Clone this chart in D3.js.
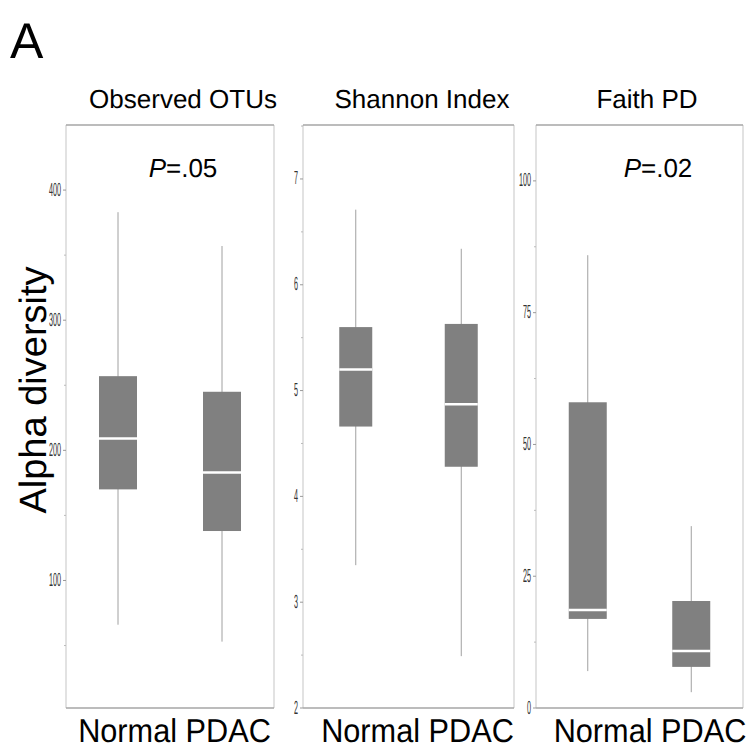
<!DOCTYPE html>
<html><head><meta charset="utf-8">
<script src="https://cdn.jsdelivr.net/npm/d3@7"></script>
<style>body{margin:0;background:#fff}svg{display:block}text{text-rendering:geometricPrecision}</style>
</head><body>
<script>
const groups = ["Normal", "PDAC"];
const panelTitles = ["Observed OTUs", "Shannon Index", "Faith PD"];
const pValues = ["=.05", null, "=.02"];
// [whiskerLow, q1, median, q3, whiskerHigh] per group
const otuStats = [[66, 170, 209, 257, 383], [53, 138, 183, 245, 357]];
const shannonStats = [[3.35, 4.66, 5.20, 5.60, 6.71], [2.49, 4.28, 4.87, 5.63, 6.34]];
const faithStats = [[7.0, 16.9, 18.6, 58.0, 85.9], [3.0, 7.8, 10.8, 20.3, 34.5]];
const otuTicks = [100, 200, 300, 400];
const shannonTicks = [2, 3, 4, 5, 6, 7];
const faithTicks = [0, 25, 50, 75, 100];
const otuDomain = [2, 450];
const shannonDomain = [2, 7.51];
const faithDomain = [0, 110.6];

const W = 749, H = 750;
const svg = d3.select("body").append("svg").attr("width", W).attr("height", H)
  .style("font-family", "Liberation Sans, Arial, sans-serif");

svg.append("text").attr("x", 10).attr("y", 58).attr("font-size", 50).text("A");
svg.append("text").attr("transform", "translate(46,390) rotate(-90)")
  .attr("text-anchor", "middle").attr("font-size", 38).text("Alpha diversity");

const panels = [
  {x0: 66, x1: 274, y0: 125, y1: 708, stats: otuStats, ticks: otuTicks, dom: otuDomain, title: panelTitles[0], p: pValues[0], bw: 38, minor: 50, tx: 183, px: 183, lc: 174.5},
  {x0: 303, x1: 514, y0: 125, y1: 708, stats: shannonStats, ticks: shannonTicks, dom: shannonDomain, title: panelTitles[1], p: pValues[1], bw: 33, minor: 0.5, tx: 422, px: 0, lc: 417.5},
  {x0: 536, x1: 743, y0: 125, y1: 708, stats: faithStats, ticks: faithTicks, dom: faithDomain, title: panelTitles[2], p: pValues[2], bw: 38, minor: 12.5, tx: 647, px: 658, lc: 650}
];

panels.forEach(pn => {
  const g = svg.append("g");
  const y = d3.scaleLinear().domain(pn.dom).range([pn.y1, pn.y0]);
  const x = d3.scalePoint().domain(groups).range([pn.x0, pn.x1]).padding(0.5);
  // frame
  g.append("line").attr("x1", pn.x0).attr("x2", pn.x0).attr("y1", pn.y0).attr("y2", pn.y1).attr("stroke", "#d9d9d9").attr("stroke-width", 1.5);
  g.append("line").attr("x1", pn.x1).attr("x2", pn.x1).attr("y1", pn.y0).attr("y2", pn.y1).attr("stroke", "#d9d9d9").attr("stroke-width", 1.5);
  g.append("line").attr("x1", pn.x0).attr("x2", pn.x1).attr("y1", pn.y0).attr("y2", pn.y0).attr("stroke", "#a6a6a6").attr("stroke-width", 1.5);
  g.append("line").attr("x1", pn.x0).attr("x2", pn.x1).attr("y1", pn.y1).attr("y2", pn.y1).attr("stroke", "#a6a6a6").attr("stroke-width", 1.5);
  // minor ticks
  const minors = d3.range(Math.ceil(pn.dom[0] / pn.minor) * pn.minor, pn.dom[1], pn.minor)
    .filter(v => !pn.ticks.some(t => Math.abs(t - v) < 1e-9));
  g.selectAll(".mn").data(minors).join("line")
    .attr("x1", pn.x0 - 2).attr("x2", pn.x0).attr("y1", d => y(d)).attr("y2", d => y(d))
    .attr("stroke", "#bbb").attr("stroke-width", 1);
  // major ticks
  g.selectAll(".mj").data(pn.ticks).join("line")
    .attr("x1", pn.x0 - 3).attr("x2", pn.x0).attr("y1", d => y(d)).attr("y2", d => y(d))
    .attr("stroke", "#999").attr("stroke-width", 1);
  g.selectAll(".tl").data(pn.ticks).join("text")
    .attr("transform", d => `translate(${pn.x0 - 5},${y(d)}) scale(0.38,1)`)
    .attr("text-anchor", "end").attr("dominant-baseline", "central")
    .attr("font-size", 19).attr("fill", "#333").text(d => d);
  // boxes
  const bx = g.selectAll(".box").data(pn.stats).join("g");
  bx.append("line").attr("x1", (d, i) => x(groups[i])).attr("x2", (d, i) => x(groups[i]))
    .attr("y1", d => y(d[0])).attr("y2", d => y(d[4])).attr("stroke", "#a0a0a0").attr("stroke-width", 1);
  bx.append("rect").attr("x", (d, i) => x(groups[i]) - pn.bw / 2).attr("width", pn.bw)
    .attr("y", d => y(d[3])).attr("height", d => y(d[1]) - y(d[3])).attr("fill", "#808080");
  bx.append("line").attr("x1", (d, i) => x(groups[i]) - pn.bw / 2).attr("x2", (d, i) => x(groups[i]) + pn.bw / 2)
    .attr("y1", d => y(d[2])).attr("y2", d => y(d[2])).attr("stroke", "#fff").attr("stroke-width", 2.5);
  // title
  g.append("text").attr("x", pn.tx).attr("y", 108).attr("text-anchor", "middle")
    .attr("font-size", 26).text(pn.title);
  if (pn.p) {
    const t = g.append("text").attr("x", pn.px).attr("y", 177).attr("text-anchor", "middle").attr("font-size", 26);
    t.append("tspan").attr("font-style", "italic").text("P");
    t.append("tspan").text(pn.p);
  }
  // x labels
  g.append("text").attr("transform", `translate(${pn.lc},742) scale(0.93,1)`)
    .attr("text-anchor", "middle").attr("font-size", 33)
    .selectAll("tspan").data(groups).join("tspan")
    .text((d, i) => (i > 0 ? " " : "") + d);
});
</script>
</body></html>
